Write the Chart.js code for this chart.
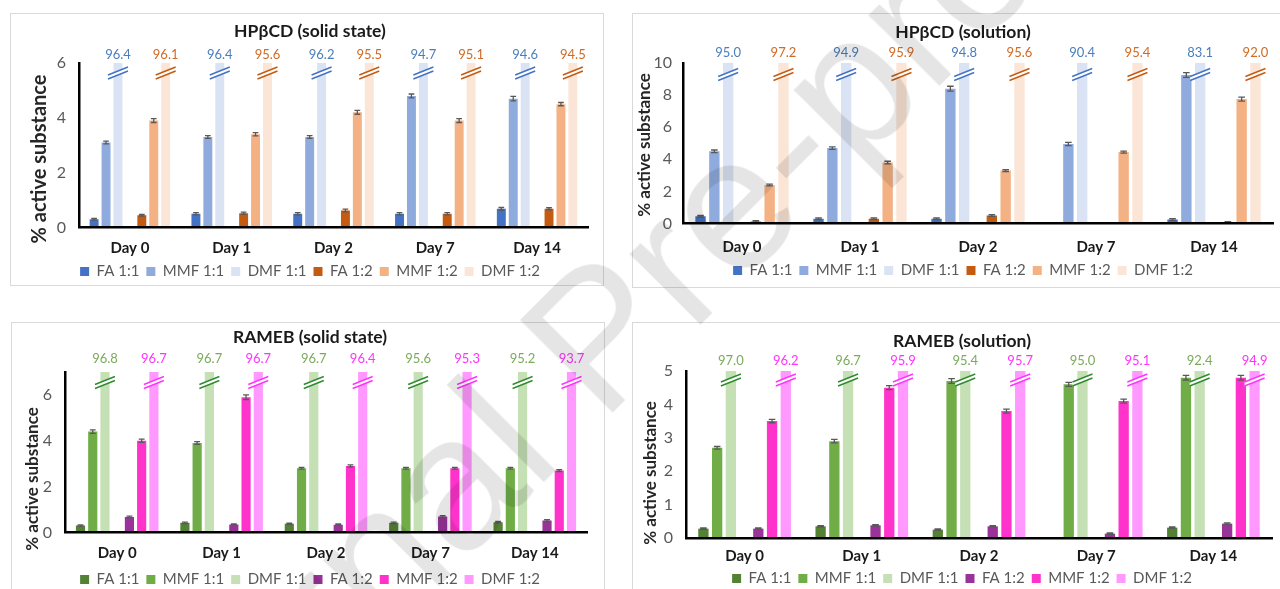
<!DOCTYPE html>
<html>
<head>
<meta charset="utf-8">
<script src="https://cdn.jsdelivr.net/npm/chart.js@4.4.1/dist/chart.umd.min.js"></script>
<style>
  html, body { margin: 0; padding: 0; background: #fff; }
  body { position: relative; width: 1280px; height: 589px; overflow: hidden; }
  .frame { position: absolute; border: 1px solid #d9d9d9; box-sizing: border-box; }
  canvas { position: absolute; }
  .stamp {
    position: absolute; left: 596px; top: 336px;
    transform: translate(-50%, -50%) rotate(-45deg);
    font: 190px/1 "Liberation Sans", Arial, sans-serif;
    color: rgba(0, 0, 0, 0.1); white-space: nowrap; pointer-events: none;
  }
</style>
</head>
<body>
<div class="frame" style="left:10px;top:13px;width:594px;height:273px"></div>
<div class="frame" style="left:632px;top:13px;width:670px;height:275px"></div>
<div class="frame" style="left:11px;top:322px;width:594px;height:300px"></div>
<div class="frame" style="left:632px;top:322px;width:670px;height:300px"></div>

<canvas id="hpSolid"  width="600" height="276" style="left:10px;top:13px"></canvas>
<canvas id="hpSol"    width="662" height="275" style="left:632px;top:13px"></canvas>
<canvas id="raSolid"  width="598" height="275" style="left:11px;top:322px"></canvas>
<canvas id="raSol"    width="660" height="274" style="left:632px;top:322px"></canvas>

<div class="stamp">Journal Pre-proof</div>

<script>
const days   = ['Day 0', 'Day 1', 'Day 2', 'Day 7', 'Day 14'];
const series = ['FA 1:1', 'MMF 1:1', 'DMF 1:1', 'FA 1:2', 'MMF 1:2', 'DMF 1:2'];

// HPβCD, solid state (% active substance)
const hpSolidFa11  = [0.3, 0.5, 0.5, 0.5, 0.68];
const hpSolidMmf11 = [3.1, 3.3, 3.3, 4.8, 4.7];
const hpSolidDmf11 = [96.4, 96.4, 96.2, 94.7, 94.6];
const hpSolidFa12  = [0.45, 0.52, 0.62, 0.5, 0.68];
const hpSolidMmf12 = [3.9, 3.4, 4.2, 3.9, 4.5];
const hpSolidDmf12 = [96.1, 95.6, 95.5, 95.1, 94.5];
const hpSolidErrFa11  = [0.03, 0.04, 0.04, 0.04, 0.05];
const hpSolidErrMmf11 = [0.05, 0.05, 0.05, 0.07, 0.08];
const hpSolidErrFa12  = [0.03, 0.04, 0.05, 0.04, 0.04];
const hpSolidErrMmf12 = [0.07, 0.06, 0.07, 0.07, 0.06];

// HPβCD, solution
const hpSolFa11  = [0.45, 0.3, 0.3, null, 0.25];
const hpSolMmf11 = [4.5, 4.7, 8.4, 4.95, 9.25];
const hpSolDmf11 = [95.0, 94.9, 94.8, 90.4, 83.1];
const hpSolFa12  = [0.12, 0.3, 0.5, null, 0.08];
const hpSolMmf12 = [2.4, 3.8, 3.3, 4.45, 7.75];
const hpSolDmf12 = [97.2, 95.9, 95.6, 95.4, 92.0];
const hpSolErrFa11  = [0.05, 0.05, 0.05, null, 0.05];
const hpSolErrMmf11 = [0.08, 0.08, 0.15, 0.1, 0.15];
const hpSolErrFa12  = [0.05, 0.05, 0.05, null, 0.03];
const hpSolErrMmf12 = [0.05, 0.08, 0.06, 0.06, 0.12];

// RAMEB, solid state
const raSolidFa11  = [0.3, 0.42, 0.38, 0.42, 0.45];
const raSolidMmf11 = [4.4, 3.9, 2.8, 2.8, 2.8];
const raSolidDmf11 = [96.8, 96.7, 96.7, 95.6, 95.2];
const raSolidFa12  = [0.68, 0.35, 0.34, 0.7, 0.52];
const raSolidMmf12 = [4.0, 5.9, 2.9, 2.8, 2.7];
const raSolidDmf12 = [96.7, 96.7, 96.4, 95.3, 93.7];
const raSolidErrFa11  = [0.03, 0.03, 0.03, 0.03, 0.03];
const raSolidErrMmf11 = [0.08, 0.06, 0.04, 0.04, 0.04];
const raSolidErrFa12  = [0.03, 0.03, 0.03, 0.04, 0.04];
const raSolidErrMmf12 = [0.07, 0.1, 0.05, 0.04, 0.04];

// RAMEB, solution
const raSolFa11  = [0.28, 0.35, 0.25, null, 0.31];
const raSolMmf11 = [2.7, 2.9, 4.7, 4.6, 4.8];
const raSolDmf11 = [97.0, 96.7, 95.4, 95.0, 92.4];
const raSolFa12  = [0.28, 0.38, 0.35, 0.13, 0.43];
const raSolMmf12 = [3.5, 4.5, 3.8, 4.1, 4.8];
const raSolDmf12 = [96.2, 95.9, 95.7, 95.1, 94.9];
const raSolErrFa11  = [0.02, 0.02, 0.02, null, 0.02];
const raSolErrMmf11 = [0.04, 0.05, 0.07, 0.06, 0.07];
const raSolErrFa12  = [0.02, 0.02, 0.02, 0.02, 0.02];
const raSolErrMmf12 = [0.05, 0.06, 0.06, 0.06, 0.07];

const FONT = 'Lato, "Open Sans", sans-serif';
Chart.defaults.font.family = FONT;

const hpColors = ['#4472c4', '#8faadc', '#dae3f3', '#c55a11', '#f4b183', '#fbe5d6'];
const raColors = ['#548235', '#70ad47', '#c5e0b4', '#993399', '#ff33cc', '#ff99ff'];

// error bars, the "//" axis-break marks on the tall bars and their value tags
const barExtras = {
  id: 'barExtras',
  afterDatasetsDraw(chart, args, opts) {
    const { ctx, chartArea } = chart;
    const yScale = chart.scales.y;
    ctx.save();
    chart.data.datasets.forEach((ds, i) => {
      const meta = chart.getDatasetMeta(i);
      if (ds.errors) {
        ctx.strokeStyle = '#595959';
        ctx.lineWidth = 1.3;
        ds.data.forEach((v, j) => {
          const e = ds.errors[j];
          if (v == null || e == null) return;
          const bar = meta.data[j];
          const y1 = yScale.getPixelForValue(v + e);
          const y2 = yScale.getPixelForValue(v - e);
          const hw = bar.width * 0.32;
          ctx.beginPath();
          ctx.moveTo(bar.x, y1); ctx.lineTo(bar.x, y2);
          ctx.moveTo(bar.x - hw, y1); ctx.lineTo(bar.x + hw, y1);
          ctx.moveTo(bar.x - hw, y2); ctx.lineTo(bar.x + hw, y2);
          ctx.stroke();
        });
      }
      if (ds.mark) {
        ds.data.forEach((v, j) => {
          const bar = meta.data[j];
          const cx = bar.x;
          const cy = chartArea.top + opts.markOffset;
          const hw = 10, rise = 4, gap = 2;
          ctx.beginPath();
          ctx.moveTo(cx - hw, cy + rise - gap);
          ctx.lineTo(cx + hw, cy - rise - gap);
          ctx.lineTo(cx + hw, cy - rise + gap);
          ctx.lineTo(cx - hw, cy + rise + gap);
          ctx.closePath();
          ctx.fillStyle = '#fff';
          ctx.fill();
          ctx.strokeStyle = ds.mark;
          ctx.lineWidth = 1.4;
          ctx.beginPath();
          ctx.moveTo(cx - hw, cy + rise - gap); ctx.lineTo(cx + hw, cy - rise - gap);
          ctx.moveTo(cx - hw, cy + rise + gap); ctx.lineTo(cx + hw, cy - rise + gap);
          ctx.stroke();

          ctx.fillStyle = ds.tag;
          ctx.font = '13px ' + FONT;
          ctx.textAlign = 'center';
          ctx.textBaseline = 'middle';
          ctx.fillText(v.toFixed(1), cx, chartArea.top - opts.tagOffset);
        });
      }
    });
    ctx.restore();
  }
};

// rotated y-axis caption, placed freely inside the canvas
const sideTitle = {
  id: 'sideTitle',
  afterDraw(chart, args, opts) {
    const { ctx } = chart;
    ctx.save();
    ctx.translate(opts.x, opts.y);
    ctx.rotate(-Math.PI / 2);
    ctx.font = 'bold ' + opts.size + 'px ' + FONT;
    ctx.fillStyle = '#262626';
    ctx.textAlign = 'center';
    ctx.textBaseline = 'middle';
    ctx.fillText(opts.text, 0, 0);
    ctx.restore();
  }
};

Chart.register(barExtras, sideTitle);

function panel(id, o) {
  const bar = (k, data, errors) => ({
    label: series[k], data, errors,
    backgroundColor: o.colors[k], borderWidth: 0, clip: 0,
  });
  const tall = (k, data, mark, tag) => Object.assign(bar(k, data, null), { mark, tag });
  const datasets = [
    bar(0, o.values[0], o.errors[0]),
    bar(1, o.values[1], o.errors[1]),
    tall(2, o.values[2], o.marks[0], o.tags[0]),
    { label: '', data: days.map(() => null), spacer: true },   // gap between the 1:1 and 1:2 groups
    bar(3, o.values[3], o.errors[2]),
    bar(4, o.values[4], o.errors[3]),
    tall(5, o.values[5], o.marks[1], o.tags[1]),
  ];

  const axisBorder = { display: true, color: '#000', width: 2.5, z: 1 };

  return new Chart(document.getElementById(id), {
    type: 'bar',
    data: { labels: days, datasets },
    options: {
      responsive: false,
      animation: false,
      layout: { padding: { left: o.side, right: o.side, top: 0, bottom: 0 } },
      datasets: { bar: { categoryPercentage: 0.82, barPercentage: 0.75 } },
      plugins: {
        title: {
          display: true, text: o.title, color: '#1a1a1a',
          font: { size: 17.5, weight: 'bold' },
          padding: { top: o.titleTop, bottom: o.titleBottom },
        },
        legend: {
          position: 'bottom',
          labels: {
            boxWidth: 9, boxHeight: 9, padding: 7, color: '#595959',
            font: { size: 15 },
            filter: (item, data) => !data.datasets[item.datasetIndex].spacer,
          },
        },
        tooltip: { enabled: false },
        barExtras: { markOffset: o.markOffset, tagOffset: o.tagOffset },
        sideTitle: { text: '% active substance', x: o.yTitle[0], y: o.yTitle[1], size: o.yTitleSize },
      },
      scales: {
        x: {
          grid: { display: false, drawTicks: false },
          border: axisBorder,
          ticks: { color: '#1a1a1a', padding: o.xPad, font: { size: 15, weight: 'bold' } },
          afterFit: s => { s.height = o.xHeight; },
        },
        y: {
          min: 0, max: o.yMax,
          grid: { display: false, drawTicks: false },
          border: axisBorder,
          ticks: { stepSize: o.yStep, includeBounds: false, padding: o.yPad, color: '#595959', font: { size: 16 } },
          afterFit: s => { s.width = o.yWidth; },
        },
      },
    },
  });
}

panel('hpSolid', {
  title: 'HPβCD (solid state)', colors: hpColors,
  values: [hpSolidFa11, hpSolidMmf11, hpSolidDmf11, hpSolidFa12, hpSolidMmf12, hpSolidDmf12],
  errors: [hpSolidErrFa11, hpSolidErrMmf11, hpSolidErrFa12, hpSolidErrMmf12],
  marks: ['#4472c4', '#c55a11'], tags: ['#4a7ebb', '#d06a24'],
  yMax: 6, yStep: 2, side: 22, yWidth: 47, yPad: 13,
  titleTop: 7.5, titleBottom: 21.5, xPad: 12, xHeight: 29.5,
  markOffset: 10, tagOffset: 8, yTitle: [30, 146], yTitleSize: 20,
});

panel('hpSol', {
  title: 'HPβCD (solution)', colors: hpColors,
  values: [hpSolFa11, hpSolMmf11, hpSolDmf11, hpSolFa12, hpSolMmf12, hpSolDmf12],
  errors: [hpSolErrFa11, hpSolErrMmf11, hpSolErrFa12, hpSolErrMmf12],
  marks: ['#4472c4', '#c55a11'], tags: ['#4a7ebb', '#d06a24'],
  yMax: 10, yStep: 2, side: 21, yWidth: 30, yPad: 11,
  titleTop: 8.5, titleBottom: 20.5, xPad: 14.5, xHeight: 32.5,
  markOffset: 11.5, tagOffset: 10, yTitle: [13, 132], yTitleSize: 17,
});

panel('raSolid', {
  title: 'RAMEB (solid state)', colors: raColors,
  values: [raSolidFa11, raSolidMmf11, raSolidDmf11, raSolidFa12, raSolidMmf12, raSolidDmf12],
  errors: [raSolidErrFa11, raSolidErrMmf11, raSolidErrFa12, raSolidErrMmf12],
  marks: ['#2e8b2e', '#ff33ff'], tags: ['#7aab5a', '#ff33ff'],
  yMax: 7, yStep: 2, side: 22, yWidth: 32, yPad: 13,
  titleTop: 4.5, titleBottom: 24.5, xPad: 11.5, xHeight: 32.5,
  markOffset: 10.5, tagOffset: 13, yTitle: [22, 157], yTitleSize: 17,
});

panel('raSol', {
  title: 'RAMEB (solution)', colors: raColors,
  values: [raSolFa11, raSolMmf11, raSolDmf11, raSolFa12, raSolMmf12, raSolDmf12],
  errors: [raSolErrFa11, raSolErrMmf11, raSolErrFa12, raSolErrMmf12],
  marks: ['#2e8b2e', '#ff33ff'], tags: ['#7aab5a', '#ff33ff'],
  yMax: 5, yStep: 1, side: 20, yWidth: 34, yPad: 13,
  titleTop: 8.5, titleBottom: 19.5, xPad: 9.5, xHeight: 26,
  markOffset: 9, tagOffset: 10, yTitle: [19, 151], yTitleSize: 17,
});
</script>
</body>
</html>
